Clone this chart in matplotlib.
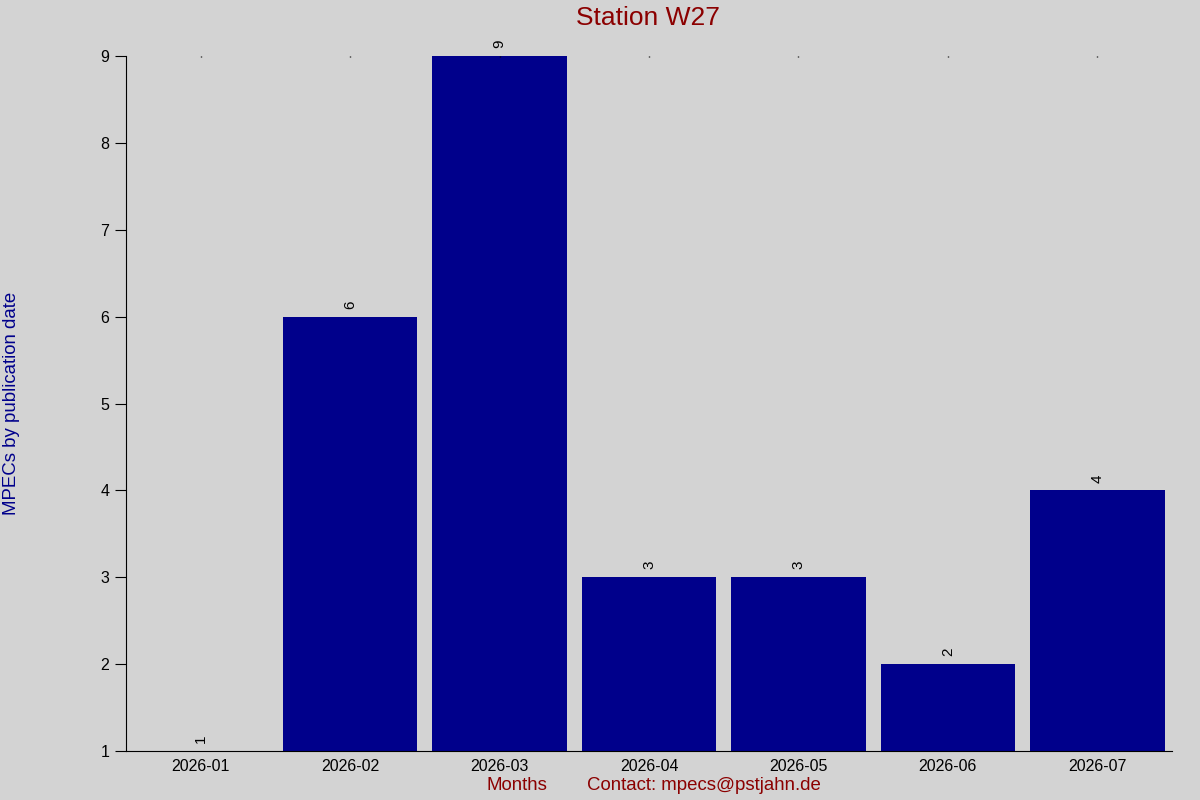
import matplotlib.pyplot as plt

months = ['2026-01', '2026-02', '2026-03', '2026-04', '2026-05', '2026-06', '2026-07']
counts = [1, 6, 9, 3, 3, 2, 4]
yticks = [1, 2, 3, 4, 5, 6, 7, 8, 9]

plt.rcParams['font.family'] = ['Liberation Sans', 'DejaVu Sans']

fig = plt.figure(figsize=(12, 8), dpi=100, facecolor='#d3d3d3')
ax = fig.add_axes([0.105, 0.06125, 0.8717, 0.86875])
ax.set_facecolor('#d3d3d3')

x = list(range(len(months)))
ax.bar(x, counts, width=0.9, color='#00008b')
for xi, c in zip(x, counts):
    ax.text(xi, c + 0.09, str(c), rotation=90, ha='center', va='bottom', fontsize=11)

ax.set_xlim(-0.5, len(months) - 0.5)
ax.set_ylim(1, 9)
ax.set_yticks(yticks)
ax.set_xticks(x)
ax.set_xticklabels(months)
# tiny marks at the top of the plot, none at the bottom
ax.tick_params(axis='x', bottom=False, top=True, length=1, width=1, direction='in',
               color='black', labelsize=11.5, pad=6)
ax.tick_params(axis='y', length=8, labelsize=11.5, pad=4)

for s in ['top', 'right']:
    ax.spines[s].set_visible(False)

fig.text(0.54, 0.977, 'Station W27', color='#8b0000', fontsize=19, ha='center', va='center')
fig.text(0.010, 0.496, 'MPECs by publication date', color='#00008b', fontsize=13.4,
         rotation=90, ha='center', va='center')
fig.text(0.431, 0.018, 'Months', color='#8b0000', fontsize=13.4, ha='center', va='center')
fig.text(0.587, 0.018, 'Contact: mpecs@pstjahn.de', color='#8b0000', fontsize=13.4,
         ha='center', va='center')

plt.savefig('out.png', facecolor=fig.get_facecolor())
